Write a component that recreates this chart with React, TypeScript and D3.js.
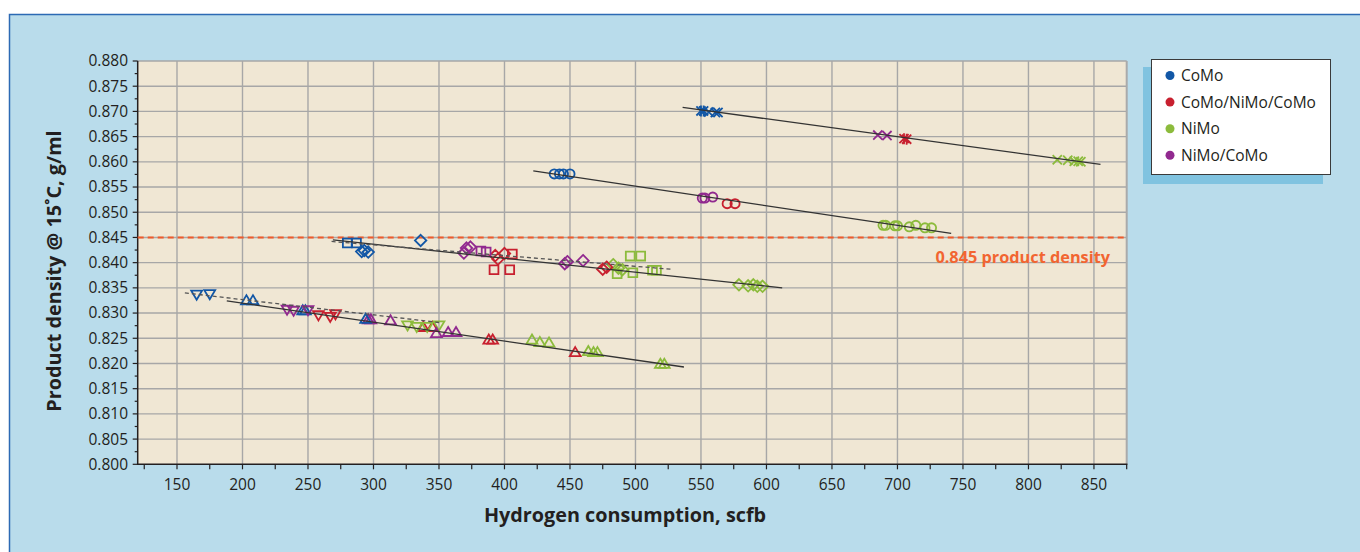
import React, { useRef, useEffect } from 'react';
import * as d3 from 'd3';

// Catalyst categories and colours
const categories = ['CoMo', 'CoMo/NiMo/CoMo', 'NiMo', 'NiMo/CoMo'];
const categoryColors = ['#1257a6', '#c8202f', '#8cbb3c', '#91298f'];

// Axis ticks
const xTicks = d3.range(125, 876, 25);
const xLabels = d3.range(150, 851, 50);
const yMajor = d3.range(0, 17).map(i => 0.8 + i * 0.005);
const yMinor = d3.range(0, 16).map(i => 0.8025 + i * 0.005);

// --- series: [hydrogen scfb, density g/ml] ---
// top group (x / asterisk)
const comoStarTop = [[550, 0.8701], [552, 0.8701]];
const comoXTop = [[556, 0.8699], [561, 0.8698], [563, 0.8698]];
const nimoComoXTop = [[685, 0.8653], [692, 0.8652]];
const redStarTop = [[705, 0.8646], [707, 0.8645]];
const nimoXTop = [[822, 0.8604], [830, 0.8603], [835, 0.8601], [838, 0.8601], [840, 0.86]];

// circle group
const comoCircle = [[438, 0.8576], [442, 0.8576], [445, 0.8576], [450, 0.8576]];
const nimoComoCircle = [[551, 0.8528], [553, 0.8528], [559, 0.853]];
const redCircle = [[570, 0.8517], [576, 0.8517]];
const nimoCircle = [[689, 0.8474], [691, 0.8474], [698, 0.8473], [700, 0.8473], [709, 0.8471], [714, 0.8474], [721, 0.8469], [726, 0.8469]];

// diamond / square group
const comoSquare = [[280, 0.8439], [287, 0.8439]];
const comoDiamond = [[291, 0.8422], [293, 0.8424], [296, 0.8421], [336, 0.8444]];
const nimoComoDiamond = [[369, 0.8419], [371, 0.8429], [374, 0.8431], [446, 0.8398], [448, 0.8402], [460, 0.8404]];
const nimoComoSquare = [[382, 0.8423], [386, 0.8421]];
const redDiamond = [[393, 0.8414], [395, 0.8407], [400, 0.8418], [475, 0.8387], [478, 0.8391]];
const redSquare = [[392, 0.8386], [404, 0.8386], [406, 0.8417]];
const nimoDiamond = [[483, 0.8396], [487, 0.8389], [490, 0.8386], [579, 0.8356], [586, 0.8354], [590, 0.8356], [593, 0.8353], [597, 0.8353]];
const nimoSquare = [[496, 0.8413], [504, 0.8413], [486, 0.8378], [498, 0.838], [513, 0.8385], [516, 0.8385]];

// triangle group
const comoTriDown = [[165, 0.8338], [175, 0.8339]];
const comoTriUp = [[203, 0.8324], [208, 0.8324], [246, 0.8304], [248, 0.8304], [294, 0.8287]];
const nimoComoTriDown = [[234, 0.8308], [239, 0.8306], [250, 0.8307]];
const redTriDown = [[258, 0.8297], [267, 0.8294], [271, 0.8299]];
const nimoComoTriUp = [[296, 0.8286], [298, 0.8286], [313, 0.8284], [348, 0.8259], [357, 0.8261], [363, 0.8261]];
const nimoTriDown = [[326, 0.8277], [333, 0.8274], [341, 0.8274], [350, 0.8277]];
const redTriUp = [[338, 0.8271], [345, 0.8271], [388, 0.8246], [391, 0.8246], [454, 0.8221]];
const nimoTriUp = [[421, 0.8246], [427, 0.8241], [434, 0.824], [464, 0.8223], [468, 0.8221], [471, 0.8221], [519, 0.8198], [522, 0.8198]];

// trend lines [x1, y1, x2, y2]
const trendSolid = [
  [536, 0.8708, 855, 0.8595],
  [422, 0.8582, 741, 0.8458],
  [269, 0.8445, 612, 0.835],
  [188, 0.8324, 537, 0.8193],
];
const trendDashed = [
  [268, 0.8442, 527, 0.8387],
  [156, 0.834, 351, 0.8281],
];

const targetDensity = 0.845;

const markerSets = [
  { data: nimoXTop, cat: 2, shape: 'x' },
  { data: nimoComoXTop, cat: 3, shape: 'x' },
  { data: redStarTop, cat: 1, shape: 'star' },
  { data: comoXTop, cat: 0, shape: 'x' },
  { data: comoStarTop, cat: 0, shape: 'star' },
  { data: nimoCircle, cat: 2, shape: 'circle' },
  { data: redCircle, cat: 1, shape: 'circle' },
  { data: nimoComoCircle, cat: 3, shape: 'circle' },
  { data: comoCircle, cat: 0, shape: 'circle' },
  { data: nimoDiamond, cat: 2, shape: 'diamond' },
  { data: nimoSquare, cat: 2, shape: 'square' },
  { data: redSquare, cat: 1, shape: 'square' },
  { data: redDiamond, cat: 1, shape: 'diamond' },
  { data: nimoComoSquare, cat: 3, shape: 'square' },
  { data: nimoComoDiamond, cat: 3, shape: 'diamond' },
  { data: comoDiamond, cat: 0, shape: 'diamond' },
  { data: comoSquare, cat: 0, shape: 'square' },
  { data: nimoTriUp, cat: 2, shape: 'triUp' },
  { data: redTriUp, cat: 1, shape: 'triUp' },
  { data: nimoTriDown, cat: 2, shape: 'triDown' },
  { data: nimoComoTriUp, cat: 3, shape: 'triUp' },
  { data: redTriDown, cat: 1, shape: 'triDown' },
  { data: comoTriUp, cat: 0, shape: 'triUp' },
  { data: nimoComoTriDown, cat: 3, shape: 'triDown' },
  { data: comoTriDown, cat: 0, shape: 'triDown' },
];

function markerPath(shape: string) {
  switch (shape) {
    case 'circle':
      return 'M4.6,0A4.6,4.6 0 1,1 -4.6,0A4.6,4.6 0 1,1 4.6,0Z';
    case 'square':
      return 'M-4.4,-4.4H4.4V4.4H-4.4Z';
    case 'diamond':
      return 'M0,-5.7L5.7,0L0,5.7L-5.7,0Z';
    case 'triUp':
      return 'M0,-5.8L5.4,3.3L-5.4,3.3Z';
    case 'triDown':
      return 'M0,5.8L5.4,-3.3L-5.4,-3.3Z';
    case 'x':
      return 'M-4.6,-4.6L4.6,4.6M-4.6,4.6L4.6,-4.6';
    default:
      return 'M-4.6,-4.6L4.6,4.6M-4.6,4.6L4.6,-4.6M0,-5.5L0,5.5';
  }
}

const FONT = "'Open Sans', 'Noto Sans', sans-serif";

export default function App() {
  const svgRef = useRef<SVGSVGElement>(null);
  const width = 1360;
  const height = 552;

  useEffect(() => {
    if (!svgRef.current) return;
    const svg = d3.select(svgRef.current);
    svg.selectAll('*').remove();

    const x = d3.scaleLinear().domain([120, 875]).range([137.7, 1126.7]);
    const y = d3.scaleLinear().domain([0.8, 0.88]).range([464.3, 61]);

    // page background + panel
    svg.append('rect').attr('width', width).attr('height', height).attr('fill', '#ffffff');
    svg.append('rect').attr('x', 9).attr('y', 14).attr('width', width - 9).attr('height', height - 14)
      .attr('fill', '#b9dceb');
    svg.append('path').attr('d', `M9.5,${height}V14.5H${width}`)
      .attr('fill', 'none').attr('stroke', '#2c6ab4').attr('stroke-width', 1.5);

    // plot area
    const [x0, x1] = x.range();
    const [y0, y1] = y.range();
    svg.append('rect').attr('x', x0).attr('y', y1).attr('width', x1 - x0).attr('height', y0 - y1)
      .attr('fill', '#f0e7d4');

    const grid = svg.append('g').attr('stroke', '#a7a7a7').attr('stroke-width', 1.4);
    grid.selectAll('line.v').data(xLabels).enter().append('line')
      .attr('x1', d => x(d)).attr('x2', d => x(d)).attr('y1', y1).attr('y2', y0);
    grid.selectAll('line.h').data(yMajor.slice(1)).enter().append('line')
      .attr('x1', x0).attr('x2', x1).attr('y1', d => y(d)).attr('y2', d => y(d));
    svg.append('line').attr('x1', x1).attr('x2', x1).attr('y1', y1).attr('y2', y0)
      .attr('stroke', '#aaaaaa').attr('stroke-width', 2);

    // axes
    const axisColor = '#231f20';
    svg.append('line').attr('x1', x0).attr('x2', x0).attr('y1', y1).attr('y2', y0 + 0.7)
      .attr('stroke', axisColor).attr('stroke-width', 1.5);
    svg.append('line').attr('x1', x0).attr('x2', x1 + 0.7).attr('y1', y0).attr('y2', y0)
      .attr('stroke', axisColor).attr('stroke-width', 1.5);

    svg.append('g').selectAll('line').data(xTicks).enter().append('line')
      .attr('x1', d => x(d)).attr('x2', d => x(d)).attr('y1', y0).attr('y2', y0 + 5)
      .attr('stroke', axisColor).attr('stroke-width', 1.2);
    svg.append('g').selectAll('line').data(yMajor).enter().append('line')
      .attr('x1', x0 - 5).attr('x2', x0).attr('y1', d => y(d)).attr('y2', d => y(d))
      .attr('stroke', axisColor).attr('stroke-width', 1.2);
    svg.append('g').selectAll('line').data(yMinor).enter().append('line')
      .attr('x1', x0 - 3).attr('x2', x0).attr('y1', d => y(d)).attr('y2', d => y(d))
      .attr('stroke', axisColor).attr('stroke-width', 1.2);

    svg.append('g').selectAll('text').data(xLabels).enter().append('text')
      .attr('x', d => x(d)).attr('y', 489.5).attr('text-anchor', 'middle')
      .attr('font-family', FONT).attr('font-size', 15.5).attr('fill', axisColor)
      .text(d => d);
    svg.append('g').selectAll('text').data(yMajor).enter().append('text')
      .attr('x', 128).attr('y', d => y(d)).attr('dy', '0.35em').attr('text-anchor', 'end')
      .attr('font-family', FONT).attr('font-size', 15.5).attr('fill', axisColor)
      .text(d => d3.format('.3f')(d));

    svg.append('text').attr('x', 625).attr('y', 522).attr('text-anchor', 'middle')
      .attr('font-family', FONT).attr('font-weight', 'bold').attr('font-size', 19.8).attr('fill', axisColor)
      .text('Hydrogen consumption, scfb');
    svg.append('text').attr('transform', 'translate(61,271) rotate(-90)').attr('text-anchor', 'middle')
      .attr('font-family', FONT).attr('font-weight', 'bold').attr('font-size', 19.8).attr('fill', axisColor)
      .text('Product density @ 15˚C, g/ml');

    // target density line
    svg.append('line').attr('x1', x0).attr('x2', x1).attr('y1', y(targetDensity)).attr('y2', y(targetDensity))
      .attr('stroke', '#f15a29').attr('stroke-width', 2).attr('stroke-dasharray', '6,4');
    svg.append('text').attr('x', 1110).attr('y', 263).attr('text-anchor', 'end')
      .attr('font-family', FONT).attr('font-weight', 'bold').attr('font-size', 16.3).attr('fill', '#f26531')
      .text('0.845 product density');

    // markers
    const mk = svg.append('g');
    markerSets.forEach(set => {
      mk.append('g').selectAll('path').data(set.data).enter().append('path')
        .attr('transform', d => `translate(${x(d[0])},${y(d[1])})`)
        .attr('d', markerPath(set.shape))
        .attr('fill', 'none')
        .attr('stroke', categoryColors[set.cat])
        .attr('stroke-width', 1.8);
    });

    // trend lines
    svg.append('g').selectAll('line').data(trendSolid).enter().append('line')
      .attr('x1', d => x(d[0])).attr('y1', d => y(d[1])).attr('x2', d => x(d[2])).attr('y2', d => y(d[3]))
      .attr('stroke', '#333333').attr('stroke-width', 1.3);
    svg.append('g').selectAll('line').data(trendDashed).enter().append('line')
      .attr('x1', d => x(d[0])).attr('y1', d => y(d[1])).attr('x2', d => x(d[2])).attr('y2', d => y(d[3]))
      .attr('stroke', '#555555').attr('stroke-width', 1.3).attr('stroke-dasharray', '4,3');

    // legend
    const lg = svg.append('g');
    lg.append('rect').attr('x', 1143).attr('y', 67).attr('width', 180).attr('height', 117).attr('fill', '#80c3e0');
    lg.append('rect').attr('x', 1151.5).attr('y', 59.5).attr('width', 179).attr('height', 115)
      .attr('fill', '#ffffff').attr('stroke', '#3a3a3a').attr('stroke-width', 1);
    const items = lg.selectAll('g.item').data(categories).enter().append('g')
      .attr('transform', (d, i) => `translate(1170,${75.5 + i * 26.6})`);
    items.append('circle').attr('r', 4.5).attr('fill', (d, i) => categoryColors[i]);
    items.append('text').attr('x', 11).attr('dy', '0.35em')
      .attr('font-family', FONT).attr('font-size', 15.5).attr('fill', axisColor)
      .text(d => d);
  }, []);

  return (
    <div style={{ position: 'absolute', left: 0, top: 0, width, height }}>
      <svg ref={svgRef} width={width} height={height} style={{ display: 'block' }} />
    </div>
  );
}
